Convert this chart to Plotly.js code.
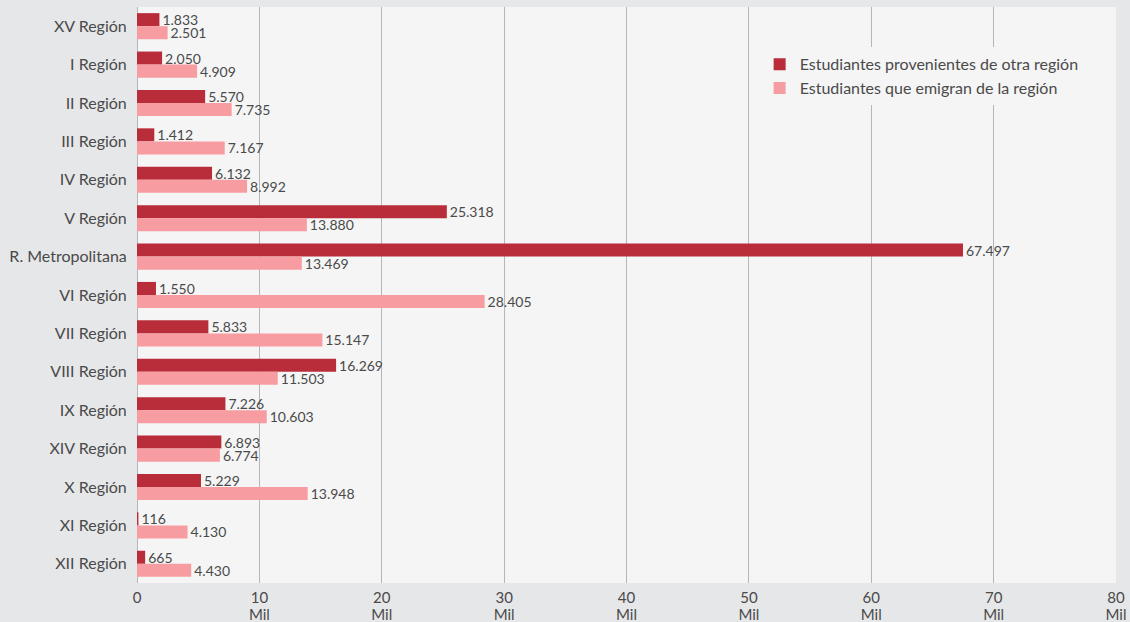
<!DOCTYPE html>
<html><head><meta charset="utf-8">
<script src="https://cdn.plot.ly/plotly-3.0.1.min.js"></script>
<style>body{margin:0;background:#e6e7e9}</style>
</head><body>
<div id="chart" style="width:1130px;height:622px"></div>
<script>
const regiones = ["XV Región","I Región","II Región","III Región","IV Región","V Región","R. Metropolitana","VI Región","VII Región","VIII Región","IX Región","XIV Región","X Región","XI Región","XII Región"];
const provenientes = [1833,2050,5570,1412,6132,25318,67497,1550,5833,16269,7226,6893,5229,116,665];
const emigran = [2501,4909,7735,7167,8992,13880,13469,28405,15147,11503,10603,6774,13948,4130,4430];
const tickVals = [0,10000,20000,30000,40000,50000,60000,70000,80000];
const tickText = ["0","10","20","30","40","50","60","70","80"];
const unitText = ["","Mil","Mil","Mil","Mil","Mil","Mil","Mil","Mil"];

const font = "Lato, Open Sans, sans-serif";
const txt = '#4a4a4a';
const traces = [
  {type:'bar', orientation:'h', name:'Estudiantes provenientes de otra región', y:regiones, x:provenientes,
   marker:{color:'#b92d3a'}, texttemplate:'%{x:,}', textposition:'outside', cliponaxis:false, constraintext:'none',
   textfont:{size:14,color:txt}, hoverinfo:'x+y'},
  {type:'bar', orientation:'h', name:'Estudiantes que emigran de la región', y:regiones, x:emigran,
   marker:{color:'#f79ca1'}, texttemplate:'%{x:,}', textposition:'outside', cliponaxis:false, constraintext:'none',
   textfont:{size:14,color:txt}, hoverinfo:'x+y'},
  {type:'scatter', mode:'none', x:emigran, y:regiones, xaxis:'x2', yaxis:'y', showlegend:false, hoverinfo:'skip'}
];
const layout = {
  width:1130, height:622,
  margin:{l:137,r:14,t:7,b:39},
  paper_bgcolor:'#e6e7e9', plot_bgcolor:'#f5f5f5',
  font:{family:font, color:txt, size:16},
  separators:',.',
  barmode:'group', bargap:0.32, bargroupgap:0,
  showlegend:true,
  legend:{x:0.636, y:0.93, xanchor:'left', yanchor:'top', bgcolor:'#f5f5f5', font:{size:16,color:txt}, traceorder:'normal'},
  xaxis:{range:[0,80000], tickvals:tickVals, ticktext:tickText, showgrid:true, gridcolor:'#b4b6ba', gridwidth:1,
         zeroline:true, zerolinecolor:'#b4b6ba', zerolinewidth:1, tickfont:{size:15,color:txt}, ticklabelstandoff:4, fixedrange:true},
  xaxis2:{overlaying:'x', anchor:'y', side:'bottom', range:[0,80000], tickvals:tickVals, ticktext:unitText,
          showgrid:false, zeroline:false, showline:false, tickfont:{size:15,color:txt}, ticklabelstandoff:21},
  yaxis:{range:[14.5,-0.5], tickfont:{size:16,color:txt}, ticks:'outside', ticklen:6, tickcolor:'rgba(0,0,0,0)', showgrid:false, zeroline:false}
};
Plotly.newPlot('chart', traces, layout, {displayModeBar:false, staticPlot:true});
</script>
</body></html>
